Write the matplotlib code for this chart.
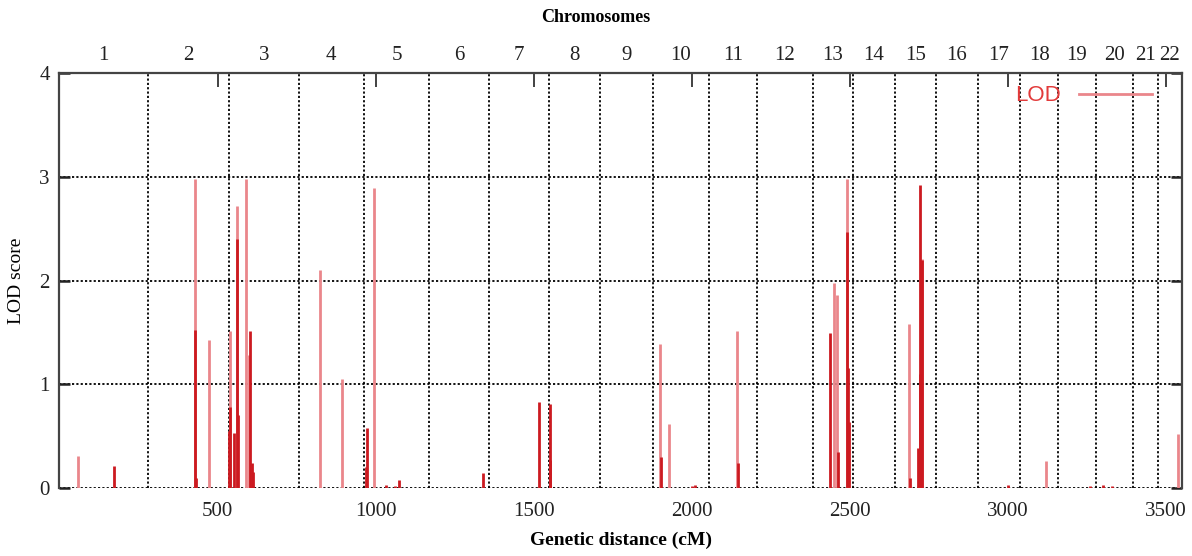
import matplotlib
matplotlib.use("Agg")
import matplotlib.pyplot as plt
from matplotlib.lines import Line2D
import numpy as np

# chromosome boundaries along the genetic map (cM)
chrom_bounds = [0, 280, 535, 757, 962, 1170, 1359, 1549, 1711, 1876, 2055, 2207,
                2382, 2508, 2641, 2772, 2904, 3039, 3159, 3277, 3395, 3473, 3550]
chrom_names = [str(i) for i in range(1, 23)]

# isolated (lighter) LOD spikes
light_pos = [59, 428, 474, 538, 560, 590, 599, 823, 895, 994, 1900, 1929, 2144,
             2451, 2460, 2489, 2687, 2729, 3121, 3536]
light_lod = [0.31, 2.98, 1.43, 1.51, 2.72, 2.98, 1.28, 2.10, 1.05, 2.89, 1.39, 0.62, 1.51,
             1.98, 1.86, 2.98, 1.58, 2.21, 0.26, 0.52]

# dense (darker) LOD spikes
dark_pos = [173, 430, 432, 536, 540, 553, 561, 563, 601, 609, 613, 969, 971, 1034, 1060,
            1075, 1338, 1516, 1550, 1552, 1902, 2000, 2010, 2146, 2438, 2462, 2492,
            2494, 2496, 2690, 2716, 2720, 2723, 2727, 3000, 3260, 3300, 3330]
dark_lod = [0.21, 1.52, 0.10, 0.55, 0.78, 0.53, 2.40, 0.70, 1.51, 0.24, 0.15, 0.20, 0.58, 0.03, 0.02,
            0.08, 0.14, 0.83, 0.81, 0.27, 0.30, 0.02, 0.03, 0.24, 1.49, 0.35, 2.47,
            1.16, 0.64, 0.10, 0.39, 1.10, 2.92, 2.20, 0.03, 0.02, 0.03, 0.02]

serif = ["Liberation Serif", "DejaVu Serif"]
plt.rcParams["font.family"] = serif

fig = plt.figure(figsize=(11.92, 5.56), dpi=100)
ax = fig.add_axes([0.0499, 0.1223, 0.9417, 0.7464])

ax.vlines(light_pos, 0, light_lod, color="#ea868b", lw=2.0)
ax.vlines(dark_pos, 0, dark_lod, color="#cc1a20", lw=2.0)

ax.set_xlim(0, 3550)
ax.set_ylim(0, 4)

# dotted grid: chromosome boundaries and LOD levels
for b in chrom_bounds[1:-1]:
    ax.axvline(b, color="black", ls=(0, (1.2, 1.2)), lw=1.3, zorder=0.5)
for yv in [0, 1, 2, 3]:
    ax.axhline(yv, color="black", ls=(0, (1.2, 1.2)), lw=1.3, zorder=0.5)

ax.set_xticks([500, 1000, 1500, 2000, 2500, 3000, 3500])
ax.set_yticks([0, 1, 2, 3, 4])
ax.tick_params(axis="y", direction="in", right=True, length=8, width=1.8,
               labelsize=15, colors="#222222", pad=7)
ax.tick_params(axis="x", direction="in", top=True, bottom=False, length=10, width=1.2,
               labelsize=15, colors="#222222", pad=10)
for s in ["top", "left", "right"]:
    ax.spines[s].set_linewidth(1.6)
    ax.spines[s].set_color("#444444")
ax.spines["bottom"].set_visible(False)

# chromosome numbers on top
centers = [(chrom_bounds[i] + chrom_bounds[i + 1]) / 2 for i in range(len(chrom_names))]
sec = ax.secondary_xaxis("top")
sec.set_xticks(centers)
sec.set_xticklabels(chrom_names)
sec.tick_params(length=0, pad=6, labelsize=15, colors="#222222")
sec.spines["top"].set_visible(False)

ax.set_xlabel("Genetic distance (cM)", fontsize=14, fontweight="bold", labelpad=8)
ax.set_ylabel("LOD score", fontsize=14, labelpad=10)
fig.text(0.5, 0.968, "Chromosomes", ha="center", va="center", fontsize=13,
         fontweight="bold")

handle = Line2D([], [], color="#ea868b", lw=2)
leg = ax.legend([handle], ["LOD"], loc="center right", bbox_to_anchor=(0.991, 0.945),
                frameon=False, markerfirst=False, handlelength=3.3, handletextpad=0.8,
                prop={"family": ["Liberation Sans", "DejaVu Sans"], "size": 16})
for t in leg.get_texts():
    t.set_color("#e23a3a")

fig.savefig("out.png", dpi=100)
